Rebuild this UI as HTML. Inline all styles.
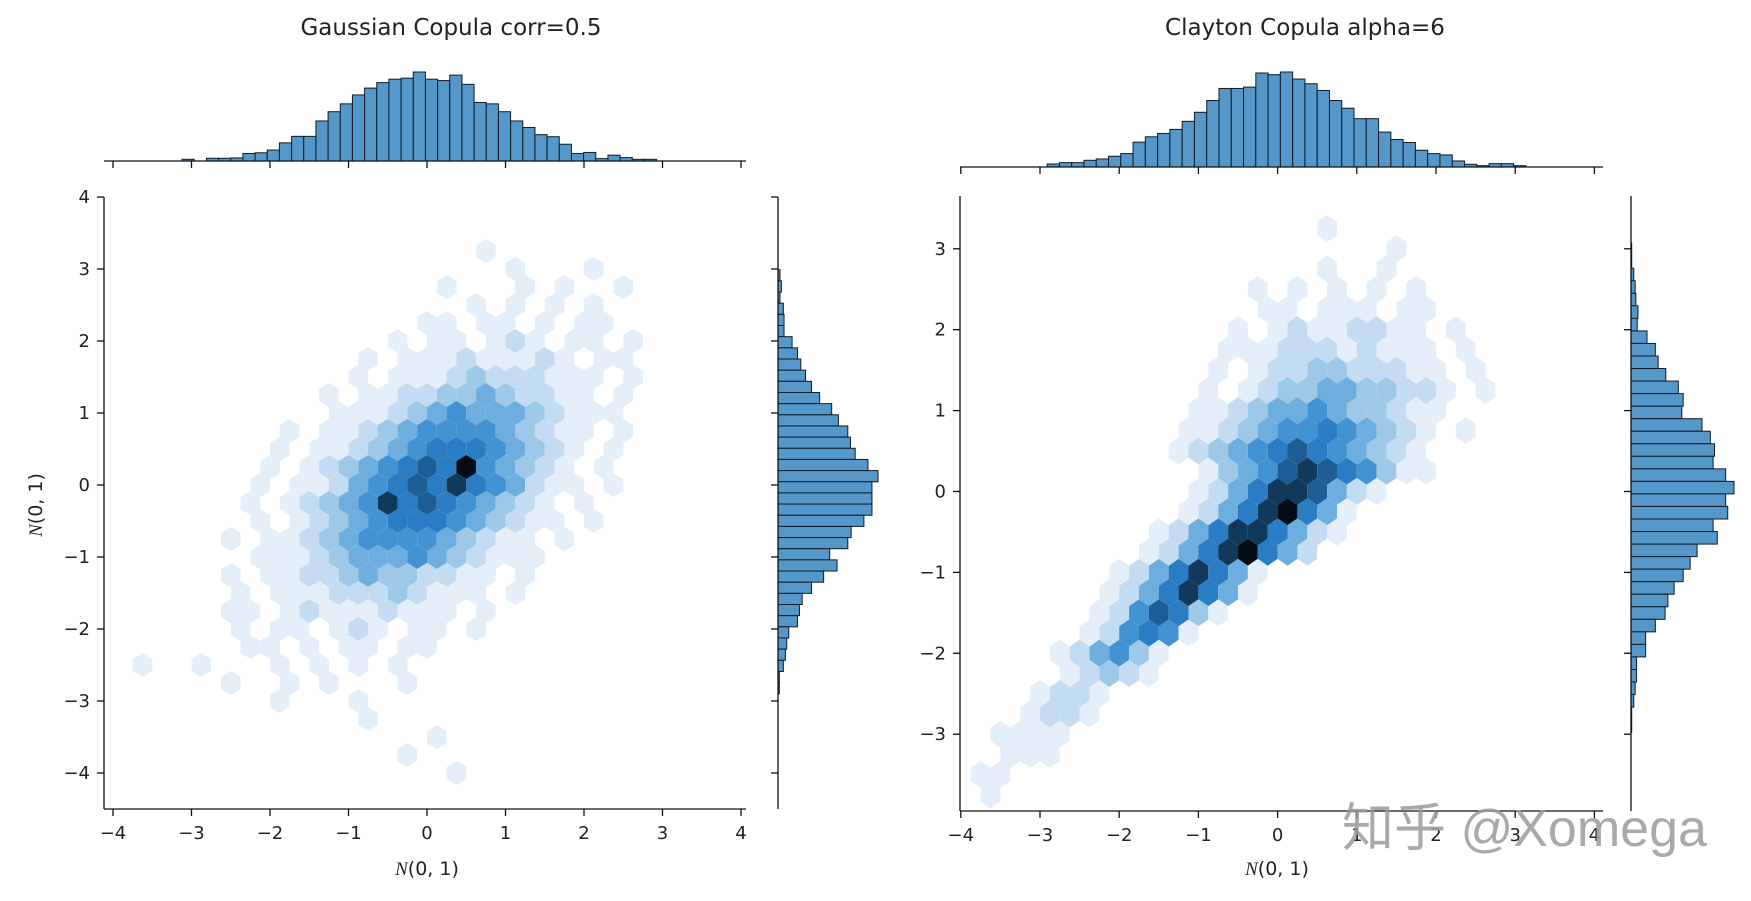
<!DOCTYPE html>
<html><head><meta charset="utf-8"><title>Gaussian vs Clayton copula</title>
<style>
html,body{margin:0;padding:0;background:#fff;}
svg{display:block;font-family:"DejaVu Sans","Liberation Sans",sans-serif;}
</style></head>
<body>
<svg id="chart" width="1751" height="901" viewBox="0 0 1751 901" xmlns="http://www.w3.org/2000/svg">
<rect x="0" y="0" width="1751" height="901" fill="#fff"/>
<text x="451" y="35" font-size="23" text-anchor="middle" fill="#222">Gaussian Copula corr=0.5</text>
<text x="1305" y="35" font-size="23" text-anchor="middle" fill="#222">Clayton Copula alpha=6</text>
<g id="left"></g>
<g id="right"></g>
<text x="427" y="875" font-size="19" text-anchor="middle" fill="#222"><tspan font-family="Liberation Serif" font-style="italic">N</tspan>(0, 1)</text>
<text x="1277" y="875" font-size="19" text-anchor="middle" fill="#222"><tspan font-family="Liberation Serif" font-style="italic">N</tspan>(0, 1)</text>
<text transform="translate(42,505) rotate(-90)" font-size="19" text-anchor="middle" fill="#222"><tspan font-family="Liberation Serif" font-style="italic">N</tspan>(0, 1)</text>
<text x="1342" y="846" font-size="52" fill="#9a9a9a" fill-opacity="0.85" font-family="'Liberation Sans','Noto Sans CJK SC',sans-serif">知乎 @Xomega</text>
</svg>
<script>
// ---------- data ----------
const gaussTopBinStart = -3.12;
const gaussTopCounts = [5,0,8,8,9,22,24,32,53,72,72,117,144,167,193,213,229,239,242,260,239,235,251,224,171,167,144,117,98,77,71,49,22,25,7,17,10,5,5];
const gaussRightBinStart = 2.99;
const gaussRightCounts = [6,10,6,16,18,18,42,58,68,82,100,124,160,180,208,216,230,268,298,280,280,280,256,218,208,154,176,136,100,72,64,58,32,26,22,16,4,4];
const claytonTopBinStart = -2.91;
const claytonTopCounts = [9,13,13,20,24,32,40,74,90,100,112,136,163,198,234,234,238,280,275,283,262,248,228,198,175,144,144,104,82,73,50,40,36,18,8,4,10,10,4];
const claytonRightBinStart = 3.07;
const claytonRightCounts = [2,2,8,12,14,20,18,46,70,78,100,136,150,146,204,228,240,236,272,296,272,278,236,248,190,170,150,124,106,98,70,42,42,16,16,12,8,2,2];
const binWidth = 0.155;
const tickValsLeftX = [-4,-3,-2,-1,0,1,2,3,4];
const tickValsLeftY = [-4,-3,-2,-1,0,1,2,3,4];
const tickValsRightX = [-4,-3,-2,-1,0,1,2,3,4];
const tickValsRightY = [-3,-2,-1,0,1,2,3];
const hexStep = 0.25;
const gaussRowTopY = 3.75;
const gaussHexRows = [
"000000000000000000000000000000000",
"000000000000000000000000000000000",
"000000000000000000010000000000000",
"000000000000000000001000100000000",
"000000000000000001000101001000000",
"000000000000000000101010100000000",
"000000000000000011011010110000000",
"000000000000001011012101101000000",
"000000000000010111211121011000000",
"000000000000101112322211101000000",
"000000000001011223343221101000000",
"000000000001112345444321110000000",
"000000000101123455554321101000000",
"000000001011234566654321010000000",
"000000001012345676954321010000000",
"000000010112456768654211010000000",
"000000010123458676543210100000000",
"000000010123456665432110100000000",
"000000101123455554321101000000000",
"000000011123444543211100000000000",
"000000101122343322110100000000000",
"000000101112223211101000000000000",
"000000110121112111010000000000000",
"000000101101210110100000000000000",
"000000011010110110000000000000000",
"010010001010101000000000000000000",
"000000100101000100000000000000000",
"000000001000100000000000000000000",
"000000000000010000000000000000000",
"000000000000000010000000000000000",
"000000000000000100000000000000000",
"000000000000000001000000000000000",
"000000000000000000000000000000000"];
const claytonRowTopY = 3.5;
const claytonHexRows = [
[0,""],[18,"1"],[22,"1"],[18,"1001"],[15,"101010101"],[15,"1101110110"],
[14,"101211221101"],[13,"1112221211101"],[13,"10122332221101"],[12,"101233443322101"],
[12,"11234454332110"],[11,"112345565432101"],[11,"12345676543210"],[12,"134578765311"],
[12,"1246887421"],[11,"124689641"],[10,"1246886421"],[9,"124689642"],
[8,"12468641"],[7,"12468641"],[7,"1257631"],[6,"125651"],
[5,"124531"],[5,"12321"],[4,"1221"],[3,"1221"],[2,"1111"],
[2,"111"],[1,"11"],[1,"1"]];
const hexColors = ["none","#e4eff9","#c4dcf1","#9ec8e8","#6eaede","#4393d2","#2a7cc4","#1d5e96","#11395c","#040d16"];

// ---------- drawing ----------
const NS = "http://www.w3.org/2000/svg";
function mk(tag, attrs, parent){ const e=document.createElementNS(NS,tag); for(const k in attrs) e.setAttribute(k,attrs[k]); parent.appendChild(e); return e; }

function panel(g, cfg){
  const sx = v => cfg.x0 + cfg.ux*v;
  const sy = v => cfg.y0 - cfg.uy*v;
  const hg = mk("g",{},g);
  
  
  const w = cfg.ux*hexStep, h = cfg.uy*hexStep*4/3;
  cfg.rows.forEach((row, r) => {
    const start = Array.isArray(row) ? row[0] : 0;
    const str = Array.isArray(row) ? row[1] : row;
    const yv = cfg.rowTop - r*hexStep;
    for(let i=0;i<str.length;i++){
      const lvl = +str[i]; if(!lvl) continue;
      const xv = -4 + hexStep*(start+i) + (r%2 ? hexStep/2 : 0);
      const cx = sx(xv), cy = sy(yv);
      const p = [[0,-h/2],[w/2,-h/4],[w/2,h/4],[0,h/2],[-w/2,h/4],[-w/2,-h/4]].map(q=>(cx+q[0]).toFixed(1)+","+(cy+q[1]).toFixed(1)).join(" ");
      const el = mk("polygon",{points:p,fill:hexColors[lvl]},hg);
      
      
    }
  });
  const ax = mk("g",{stroke:"#111","stroke-width":1.3,fill:"none"},g);
  
  
  mk("line",{x1:cfg.left,y1:cfg.top,x2:cfg.left,y2:cfg.bottom},ax);
  mk("line",{x1:cfg.left,y1:cfg.bottom,x2:cfg.right,y2:cfg.bottom},ax);
  cfg.xt.forEach(v=>{
    mk("line",{x1:sx(v),y1:cfg.bottom,x2:sx(v),y2:cfg.bottom+7},ax);
    const t = mk("text",{x:sx(v),y:cfg.bottom+30,"font-size":18,"text-anchor":"middle",fill:"#222",stroke:"none"},g);
    t.textContent = v<0 ? "\u2212"+Math.abs(v) : String(v);
    
    
    mk("line",{x1:sx(v),y1:cfg.topBase,x2:sx(v),y2:cfg.topBase+7},ax);
  });
  cfg.yt.forEach(v=>{
    mk("line",{x1:cfg.left-7,y1:sy(v),x2:cfg.left,y2:sy(v)},ax);
    const t = mk("text",{x:cfg.left-14,y:sy(v)+6,"font-size":18,"text-anchor":"end",fill:"#222",stroke:"none"},g);
    t.textContent = v<0 ? "\u2212"+Math.abs(v) : String(v);
    
    
    mk("line",{x1:cfg.rSpine-7,y1:sy(v),x2:cfg.rSpine,y2:sy(v)},ax);
  });
  const tg = mk("g",{fill:"#5597c8",stroke:"#0e1c2a","stroke-width":1},g);
  
  
  cfg.topCounts.forEach((c,i)=>{
    if(!c) return;
    const xa = sx(cfg.topStart + i*binWidth), xb = sx(cfg.topStart+(i+1)*binWidth);
    const hh = c*cfg.topScale;
    const b = mk("rect",{x:xa,y:cfg.topBase-hh,width:xb-xa,height:hh},tg);
    
    
  });
  mk("line",{x1:cfg.left,y1:cfg.topBase,x2:cfg.right,y2:cfg.topBase,stroke:"#111","stroke-width":1.3},g);
  const rg = mk("g",{fill:"#5597c8",stroke:"#0e1c2a","stroke-width":1},g);
  
  
  cfg.rightCounts.forEach((c,i)=>{
    if(!c) return;
    const ya = sy(cfg.rightStart - i*binWidth), yb = sy(cfg.rightStart-(i+1)*binWidth);
    const ww = c*cfg.rightScale;
    const b = mk("rect",{x:cfg.rSpine,y:ya,width:ww,height:yb-ya},rg);
    
    
  });
  mk("line",{x1:cfg.rSpine,y1:cfg.top,x2:cfg.rSpine,y2:cfg.bottom,stroke:"#111","stroke-width":1.3},g);
}

panel(document.getElementById("left"),{
  x0:427, ux:78.5, y0:485, uy:72,
  left:104, right:746, top:197, bottom:809,
  topBase:161, rSpine:778,
  xt:tickValsLeftX, yt:tickValsLeftY,
  rows:gaussHexRows, rowTop:gaussRowTopY,
  topCounts:gaussTopCounts, topStart:gaussTopBinStart, topScale:89/260,
  rightCounts:gaussRightCounts, rightStart:gaussRightBinStart, rightScale:100/298
});
panel(document.getElementById("right"),{
  x0:1277.6, ux:79.2, y0:491.5, uy:80.9,
  left:960, right:1603, top:196, bottom:811,
  topBase:167, rSpine:1631,
  xt:tickValsRightX, yt:tickValsRightY,
  rows:claytonHexRows, rowTop:claytonRowTopY,
  topCounts:claytonTopCounts, topStart:claytonTopBinStart, topScale:95/283,
  rightCounts:claytonRightCounts, rightStart:claytonRightBinStart, rightScale:103/296
});
</script>
</body></html>
